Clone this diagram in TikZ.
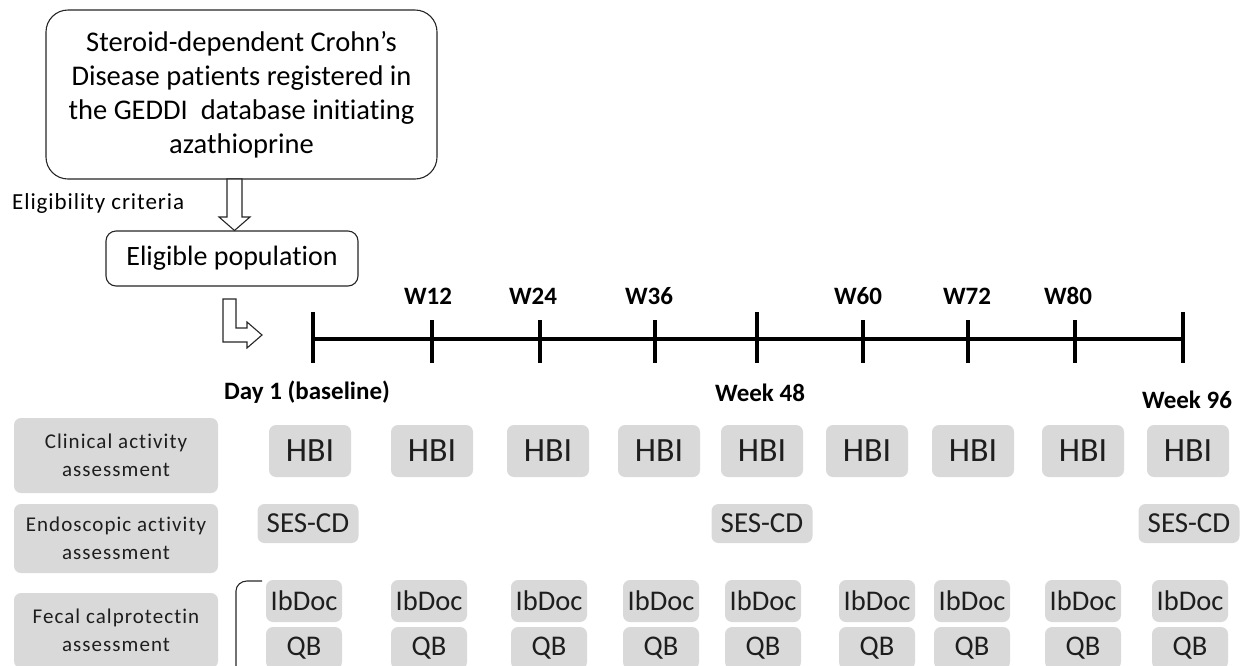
\documentclass[tikz,border=0pt]{standalone}
\usepackage{fontspec}
\setmainfont{Carlito}[Ligatures={TeX,NoCommon}]
\usetikzlibrary{calc}
\definecolor{boxgrey}{HTML}{D9D9D9}
\definecolor{txt}{HTML}{1E1E1E}
\begin{document}
\begin{tikzpicture}[x=1pt,y=-1pt,
  outline/.style={draw=black!85, line width=1.1pt, fill=white},
  hollow/.style={draw=black!85, line width=1.1pt, fill=white, line join=miter},
  tl/.style={line width=4pt, black},
  wlab/.style={anchor=base, inner sep=0pt, font=\bfseries\fontsize{25}{30}\selectfont},
  gbox/.style={fill=boxgrey, rounded corners=7pt, inner sep=0pt, text=txt},
  rowlab/.style={gbox, minimum width=204pt, align=center, font=\fontsize{21}{28}\selectfont\addfontfeature{LetterSpace=5}},
  hbi/.style={gbox, minimum width=82pt, minimum height=52pt, font=\fontsize{34}{40}\selectfont},
  ses/.style={gbox, minimum width=101pt, minimum height=39pt, font=\fontsize{29}{34}\selectfont},
  fc/.style={gbox, minimum width=76pt, minimum height=42pt, font=\fontsize{28.5}{34}\selectfont}
]
\useasboundingbox (0,0) rectangle (1253,665);
\clip (0,0) rectangle (1253,665);

% source box
\node[outline, rounded corners=22pt, minimum width=391pt, minimum height=169pt,
      inner sep=0pt, align=center, font=\fontsize{28.5}{34}\selectfont] (src) at (241.5,94.5)
  {Steroid-dependent Crohn’s\\Disease patients registered in\\the GEDDI\ \ database initiating\\azathioprine};

\node[anchor=west, inner sep=0pt, font=\fontsize{23}{28}\selectfont\addfontfeature{LetterSpace=4}] (crit) at (12,203) {Eligibility criteria};

\node[outline, rounded corners=10pt, minimum width=252pt, minimum height=55pt, inner sep=0pt,
      font=\fontsize{28}{34}\selectfont] (elig) at (232,258.5) {Eligible population};

% hollow down arrow
\draw[hollow] (227,179) -- (242,179) -- (242,217) -- (250,217) -- (234.5,230.5) -- (219,217) -- (227,217) -- cycle;

% bent hollow arrow
\draw[hollow] (223,299) -- (236,299) -- (236,328) -- (247,328) -- (247,322) -- (262,335) -- (247,348) -- (247,342) -- (223,342) -- cycle;

% timeline
\foreach \n/\x in {0/313,1/432,2/540,3/655,4/757,5/863,6/968,7/1075,8/1183}
  \coordinate (t\n) at (\x,339);
\draw[tl] (t0) -- (t8);
\foreach \n in {0,4,8} \draw[tl] ($(t\n)+(0,-27)$) -- ($(t\n)+(0,24)$);
\foreach \n in {1,2,3,5,6,7} \draw[tl] ($(t\n)+(0,-19)$) -- ($(t\n)+(0,24)$);

\node[wlab] (w12) at (428,304) {W12};
\node[wlab] (w24) at (533,304) {W24};
\node[wlab] (w36) at (649,304) {W36};
\node[wlab] (w60) at (858,304) {W60};
\node[wlab] (w72) at (967,304) {W72};
\node[wlab] (w80) at (1068,304) {W80};
\node[wlab] (d1) at (307,399) {Day 1 (baseline)};
\node[wlab] (w48) at (760,401) {Week 48};
\node[wlab] (w96) at (1187,408) {Week 96};

% row labels
\node[rowlab, minimum height=75pt] (r1) at (116,455.5) {Clinical activity\\assessment};
\node[rowlab, minimum height=69pt] (r2) at (116,538.5) {Endoscopic activity\\assessment};
\node[rowlab, minimum height=75pt] (r3) at (116,630.5) {Fecal calprotectin\\assessment};

% HBI row
\foreach \x [count=\i] in {310,432,548,659,762,867,973,1083,1188}
  \node[hbi] (hbi\i) at (\x,451) {HBI};

% SES-CD row
\node[ses] (ses1) at (308,523.5) {SES-CD};
\node[ses] (ses2) at (762,523.5) {SES-CD};
\node[ses] (ses3) at (1189,523.5) {SES-CD};

% fecal calprotectin rows
\foreach \x [count=\i] in {304,429,549,661,763,877,972,1083,1190}{
  \node[fc] (ib\i) at (\x,601) {IbDoc};
  \node[fc] (qb\i) at (\x,648) {QB};
}

% bracket
\draw[line width=1.1pt, black!85] (262,581) -- (247,581) to[out=180,in=90] (236,591) -- (236,680);
\end{tikzpicture}
\end{document}
